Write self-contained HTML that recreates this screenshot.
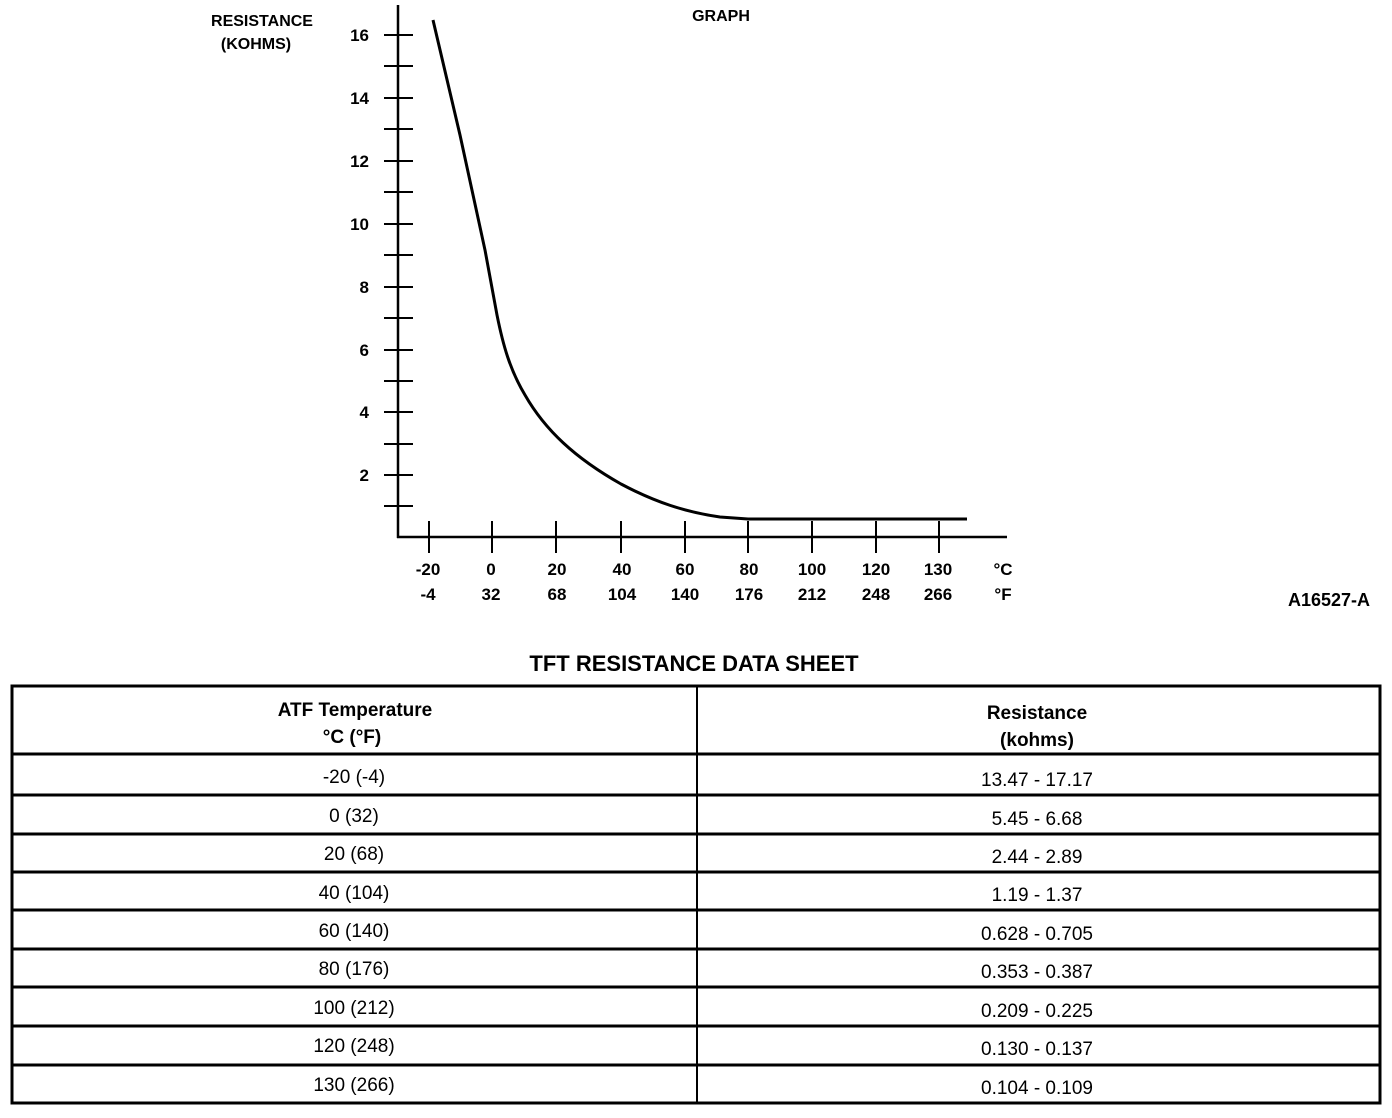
<!DOCTYPE html>
<html><head><style>
body{margin:0;background:#fff;width:1392px;height:1118px;overflow:hidden;font-family:"Liberation Sans",sans-serif;}
svg{position:absolute;left:0;top:0}
</style></head><body>
<svg width="1392" height="1118" xmlns="http://www.w3.org/2000/svg" font-family="Liberation Sans, sans-serif">
<g stroke="#000" stroke-width="2.5" fill="none">
<line x1="398" y1="5" x2="398" y2="538"/>
<line x1="397" y1="537" x2="1007" y2="537"/>
<g stroke-width="2">
<line x1="384" y1="35" x2="413" y2="35"/><line x1="384" y1="66" x2="413" y2="66"/>
<line x1="384" y1="98" x2="413" y2="98"/><line x1="384" y1="129" x2="413" y2="129"/>
<line x1="384" y1="161" x2="413" y2="161"/><line x1="384" y1="192" x2="413" y2="192"/>
<line x1="384" y1="224" x2="413" y2="224"/><line x1="384" y1="255" x2="413" y2="255"/>
<line x1="384" y1="287" x2="413" y2="287"/><line x1="384" y1="318" x2="413" y2="318"/>
<line x1="384" y1="350" x2="413" y2="350"/><line x1="384" y1="381" x2="413" y2="381"/>
<line x1="384" y1="412" x2="413" y2="412"/><line x1="384" y1="444" x2="413" y2="444"/>
<line x1="384" y1="475" x2="413" y2="475"/><line x1="384" y1="506" x2="413" y2="506"/>
<line x1="429" y1="521" x2="429" y2="553"/><line x1="492" y1="521" x2="492" y2="553"/>
<line x1="556" y1="521" x2="556" y2="553"/><line x1="621" y1="521" x2="621" y2="553"/>
<line x1="685" y1="521" x2="685" y2="553"/><line x1="748" y1="521" x2="748" y2="553"/>
<line x1="812" y1="521" x2="812" y2="553"/><line x1="876" y1="521" x2="876" y2="553"/>
<line x1="939" y1="521" x2="939" y2="553"/>
</g>
<path stroke-width="3" d="M433,20 L460,135 L485,250 L497,315 C503,345 510,370 525,395 C545,430 575,458 621,484 C655,502 685,512 720,517 L748,519 L967,519"/>
</g>
<g font-size="17" text-anchor="end" font-weight="bold">
<text x="369" y="41">16</text><text x="369" y="104">14</text><text x="369" y="167">12</text>
<text x="369" y="230">10</text><text x="369" y="293">8</text><text x="369" y="356">6</text>
<text x="369" y="418">4</text><text x="369" y="481">2</text>
</g>
<g font-size="16" text-anchor="middle" font-weight="bold">
<text x="262" y="26">RESISTANCE</text><text x="256" y="49">(KOHMS)</text>
<text x="721" y="21">GRAPH</text>
</g>
<g font-size="17" text-anchor="middle" font-weight="bold">
<text x="428" y="575">-20</text><text x="491" y="575">0</text><text x="557" y="575">20</text>
<text x="622" y="575">40</text><text x="685" y="575">60</text><text x="749" y="575">80</text>
<text x="812" y="575">100</text><text x="876" y="575">120</text><text x="938" y="575">130</text>
<text x="1003" y="575">°C</text>
<text x="428" y="600">-4</text><text x="491" y="600">32</text><text x="557" y="600">68</text>
<text x="622" y="600">104</text><text x="685" y="600">140</text><text x="749" y="600">176</text>
<text x="812" y="600">212</text><text x="876" y="600">248</text><text x="938" y="600">266</text>
<text x="1003" y="600">°F</text>
<text x="1329" y="606" font-size="18">A16527-A</text>
<text x="694" y="671" font-size="22">TFT RESISTANCE DATA SHEET</text>
</g>
<g stroke="#000" fill="none">
<rect x="12" y="686" width="1368" height="417" stroke-width="3"/>
<line x1="697" y1="686" x2="697" y2="1103" stroke-width="2"/>
<g stroke-width="3">
<line x1="12" y1="754" x2="1380" y2="754"/><line x1="12" y1="795" x2="1380" y2="795"/>
<line x1="12" y1="834" x2="1380" y2="834"/><line x1="12" y1="872" x2="1380" y2="872"/>
<line x1="12" y1="910" x2="1380" y2="910"/><line x1="12" y1="949" x2="1380" y2="949"/>
<line x1="12" y1="987" x2="1380" y2="987"/><line x1="12" y1="1026" x2="1380" y2="1026"/>
<line x1="12" y1="1065" x2="1380" y2="1065"/>
</g>
</g>
<g font-size="19" text-anchor="middle" font-weight="bold">
<text x="355" y="716">ATF Temperature</text><text x="352" y="743">°C (°F)</text>
<text x="1037" y="719">Resistance</text><text x="1037" y="746">(kohms)</text>
</g>
<g font-size="19" text-anchor="middle">
<text x="354" y="783">-20 (-4)</text><text x="1037" y="786">13.47 - 17.17</text>
<text x="354" y="822">0 (32)</text><text x="1037" y="825">5.45 - 6.68</text>
<text x="354" y="860">20 (68)</text><text x="1037" y="863">2.44 - 2.89</text>
<text x="354" y="899">40 (104)</text><text x="1037" y="901">1.19 - 1.37</text>
<text x="354" y="937">60 (140)</text><text x="1037" y="940">0.628 - 0.705</text>
<text x="354" y="975">80 (176)</text><text x="1037" y="978">0.353 - 0.387</text>
<text x="354" y="1014">100 (212)</text><text x="1037" y="1017">0.209 - 0.225</text>
<text x="354" y="1052">120 (248)</text><text x="1037" y="1055">0.130 - 0.137</text>
<text x="354" y="1091">130 (266)</text><text x="1037" y="1094">0.104 - 0.109</text>
</g>
</svg>
</body></html>
